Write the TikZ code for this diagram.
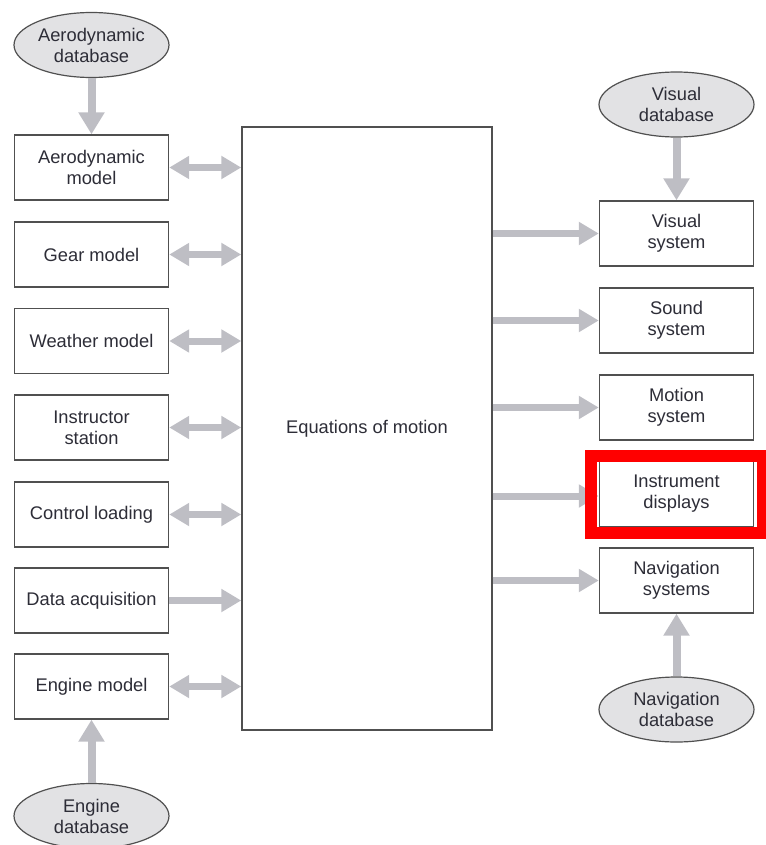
\documentclass[tikz,border=0pt]{standalone}
\usepackage{fontspec}
\setmainfont{Liberation Sans}
\usetikzlibrary{arrows.meta,shapes.geometric}
\definecolor{arr}{RGB}{190,190,196}
\definecolor{edge}{RGB}{80,80,80}
\definecolor{txt}{RGB}{45,45,55}
\definecolor{dbfill}{RGB}{226,226,228}
\definecolor{hl}{RGB}{255,0,0}
\tikzset{
  every node/.style={font=\fontsize{18.3}{21}\selectfont, text=txt, align=center},
  box/.style={draw=edge, line width=1.4pt, fill=white, inner sep=0pt, minimum width=154pt, minimum height=65pt},
  bigbox/.style={draw=edge, line width=1.4pt, fill=white, inner sep=0pt, minimum width=250pt, minimum height=603pt},
  db/.style={ellipse, draw=edge, line width=1.2pt, fill=dbfill, inner sep=0pt, minimum width=155pt, minimum height=65pt},
  one/.style={draw=arr, line width=7pt, -{Triangle[width=22pt,length=20pt]}, shorten <=0pt},
  two/.style={draw=arr, line width=7pt, {Triangle[width=22pt,length=20pt]}-{Triangle[width=22pt,length=20pt]}},
  vert/.style={draw=arr, line width=8pt, -{Triangle[width=25pt,length=22pt]}},
}
\begin{document}
\begin{tikzpicture}[x=1pt,y=-1pt]
\useasboundingbox (0,0) rectangle (765,845);
% central block
\node[bigbox] (eq) at (367,428.5) {Equations of motion};
% left column
\node[db]  (adb) at (91.5,45) {Aerodynamic\\database};
\node[box] (aero) at (91.5,167.5) {Aerodynamic\\model};
\node[box] (gear) at (91.5,254.5) {Gear model};
\node[box] (weather) at (91.5,341) {Weather model};
\node[box] (instr) at (91.5,427.5) {Instructor\\station};
\node[box] (ctrl) at (91.5,514.5) {Control loading};
\node[box] (daq) at (91.5,600.5) {Data acquisition};
\node[box] (eng) at (91.5,686.5) {Engine model};
\node[db]  (edb) at (91.5,816) {Engine\\database};
% right column
\node[db]  (vdb) at (676.5,104.5) {Visual\\database};
\node[box] (vis) at (676.5,233.5) {Visual\\system};
\node[box] (snd) at (676.5,320.5) {Sound\\system};
\node[box] (mot) at (676.5,407.5) {Motion\\system};
\node[box] (ins) at (676.5,494) {Instrument\\displays};
\node[box] (nav) at (676.5,580.5) {Navigation\\systems};
\node[db]  (ndb) at (676.5,709.5) {Navigation\\database};
% vertical arrows
\draw[vert] (adb.south) -- (aero.north);
\draw[vert] (edb.north) -- (eng.south);
\draw[vert] (vdb.south) -- (vis.north);
\draw[vert] (ndb.north) -- (nav.south);
% left horizontal arrows
\draw[two] (aero.east) -- (aero.east -| eq.west);
\draw[two] (gear.east) -- (gear.east -| eq.west);
\draw[two] (weather.east) -- (weather.east -| eq.west);
\draw[two] (instr.east) -- (instr.east -| eq.west);
\draw[two] (ctrl.east) -- (ctrl.east -| eq.west);
\draw[one] (daq.east) -- (daq.east -| eq.west);
\draw[two] (eng.east) -- (eng.east -| eq.west);
% right horizontal arrows
\draw[one] (vis.west -| eq.east) -- (vis.west);
\draw[one] (snd.west -| eq.east) -- (snd.west);
\draw[one] (mot.west -| eq.east) -- (mot.west);
\draw[one] ([yshift=-2pt]ins.west -| eq.east) -- ([yshift=-2pt]ins.west);
\draw[one] (nav.west -| eq.east) -- (nav.west);
% highlight
\draw[draw=hl, line width=12pt] (591,456) rectangle (763,533);
\end{tikzpicture}
\end{document}
